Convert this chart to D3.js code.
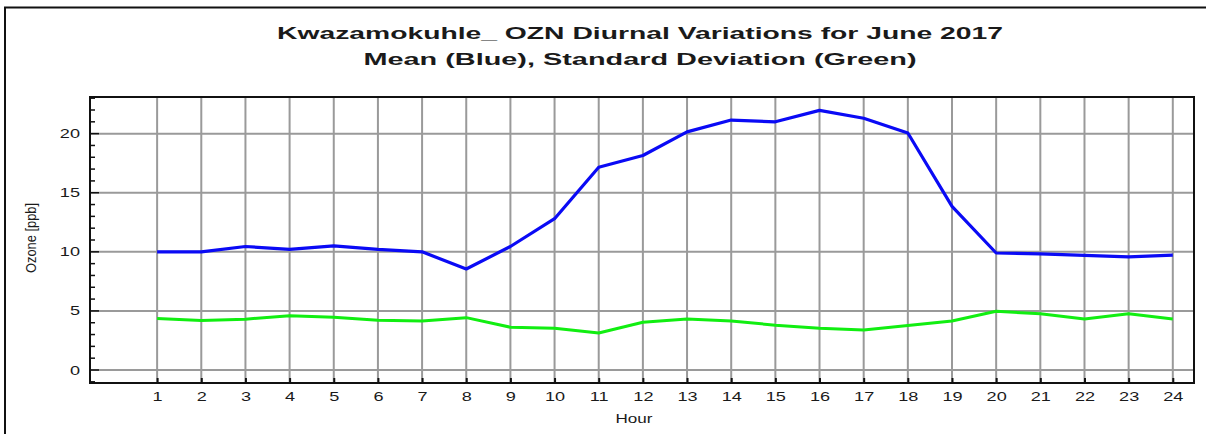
<!DOCTYPE html>
<html lang="en">
<head>
<meta charset="utf-8">
<title>Kwazamokuhle OZN Diurnal Variations</title>
<style>
  html, body { margin: 0; padding: 0; background: #fff; }
  text { font-family: "Liberation Sans", Arial, sans-serif; fill: #1a1a1a; }
  .grid line { stroke: #9a9a9a; stroke-width: 2px; }
  .title { font-weight: bold; font-size: 16.5px; }
</style>
</head>
<body>
<div id="chart"></div>
<script src="https://d3js.org/d3.v7.min.js"></script>
<script>
// hours of the day
var hours = [1,2,3,4,5,6,7,8,9,10,11,12,13,14,15,16,17,18,19,20,21,22,23,24];
// mean ozone (blue)
var meanOzone = [10.0,10.0,10.45,10.2,10.5,10.2,10.0,8.55,10.45,12.8,17.15,18.15,20.15,21.15,21.0,21.97,21.3,20.05,13.85,9.9,9.83,9.7,9.58,9.72];
// standard deviation (green)
var stdOzone = [4.35,4.18,4.3,4.6,4.47,4.2,4.15,4.43,3.62,3.53,3.13,4.04,4.32,4.15,3.79,3.53,3.39,3.76,4.15,4.97,4.75,4.32,4.75,4.32];
var yTicks = [0,5,10,15,20];
var yMinor = d3.range(-1, 24);

var width = 1206, height = 434;
var margin = {left: 90, top: 97, right: 12, bottom: 51};
var stretch = 1.45; // the picture is wider than tall, text looks stretched

var svg = d3.select("#chart").append("svg")
  .attr("width", width)
  .attr("height", height);

// outer frame (only left and top visible)
svg.append("path")
  .attr("d", "M5,434 L5,7.5 L1206,7.5")
  .attr("fill", "none")
  .attr("stroke", "#111")
  .attr("stroke-width", 2);

var x = d3.scaleLinear().domain([-0.52, 24.48]).range([margin.left, width - margin.right]);
var y = d3.scaleLinear().domain([-1.1, 23.1]).range([height - margin.bottom, margin.top]);

// grid
var grid = svg.append("g").attr("class", "grid");
grid.selectAll(".vx").data(hours).enter().append("line")
  .attr("x1", function (d) { return x(d); })
  .attr("x2", function (d) { return x(d); })
  .attr("y1", y.range()[1])
  .attr("y2", y.range()[0]);
grid.selectAll(".hy").data(yTicks).enter().append("line")
  .attr("x1", x.range()[0])
  .attr("x2", x.range()[1])
  .attr("y1", function (d) { return y(d); })
  .attr("y2", function (d) { return y(d); });

// plot frame
svg.append("rect")
  .attr("x", x.range()[0])
  .attr("y", y.range()[1])
  .attr("width", x.range()[1] - x.range()[0])
  .attr("height", y.range()[0] - y.range()[1])
  .attr("fill", "none")
  .attr("stroke", "#111")
  .attr("stroke-width", 2);

// y axis: minor ticks
svg.append("g")
  .attr("transform", "translate(" + x.range()[0] + ",0)")
  .selectAll("line").data(yMinor).enter().append("line")
  .attr("x1", 0)
  .attr("x2", function (d) { return d % 5 === 0 ? 9 : 5; })
  .attr("y1", function (d) { return y(d); })
  .attr("y2", function (d) { return y(d); })
  .attr("stroke", "#111")
  .attr("stroke-width", 1.5);

// y axis labels
var yAxis = d3.axisLeft(y).tickValues(yTicks).tickSize(0).tickPadding(10);
var gy = svg.append("g")
  .attr("transform", "translate(" + x.range()[0] + ",0)")
  .call(yAxis);
gy.select(".domain").remove();
gy.selectAll("text")
  .style("font-size", "12.5px")
  .style("font-family", "Liberation Sans, Arial, sans-serif")
  .attr("fill", "#1a2a4a")
  .attr("transform", "translate(-10,0) scale(" + stretch + ",1) translate(10,0)");

// x axis
var xAxis = d3.axisBottom(x).tickValues(hours).tickSizeInner(-5).tickSizeOuter(0).tickPadding(9);
var gx = svg.append("g")
  .attr("transform", "translate(0," + y.range()[0] + ")")
  .call(xAxis);
gx.select(".domain").remove();
gx.selectAll("line").attr("stroke", "#111").attr("stroke-width", 2);
gx.selectAll("text")
  .style("font-size", "12.5px")
  .style("font-family", "Liberation Sans, Arial, sans-serif")
  .attr("fill", "#1a1a1a")
  .attr("transform", "scale(" + stretch + ",1)");

// lines
var line = function (vals) {
  return d3.line()
    .x(function (d, i) { return x(hours[i]); })
    .y(function (d) { return y(d); })(vals);
};
svg.append("path")
  .attr("d", line(stdOzone))
  .attr("fill", "none")
  .attr("stroke", "#11ee11")
  .attr("stroke-width", 3)
  .attr("stroke-linejoin", "round");
svg.append("path")
  .attr("d", line(meanOzone))
  .attr("fill", "none")
  .attr("stroke", "#0a0af5")
  .attr("stroke-width", 3.2)
  .attr("stroke-linejoin", "round");

// titles
svg.append("text").attr("class", "title")
  .attr("x", 640).attr("y", 39)
  .attr("text-anchor", "middle")
  .attr("textLength", 726)
  .attr("lengthAdjust", "spacingAndGlyphs")
  .text("Kwazamokuhle_ OZN Diurnal Variations for June 2017");
svg.append("text").attr("class", "title")
  .attr("x", 640).attr("y", 65)
  .attr("text-anchor", "middle")
  .attr("textLength", 553)
  .attr("lengthAdjust", "spacingAndGlyphs")
  .text("Mean (Blue), Standard Deviation (Green)");

// axis titles
svg.append("text")
  .attr("x", 634).attr("y", 423)
  .attr("text-anchor", "middle")
  .attr("textLength", 37)
  .attr("lengthAdjust", "spacingAndGlyphs")
  .style("font-size", "12px")
  .text("Hour");
svg.append("text")
  .attr("transform", "translate(36,238) rotate(-90) scale(1,1.3)")
  .attr("text-anchor", "middle")
  .attr("textLength", 70)
  .attr("lengthAdjust", "spacingAndGlyphs")
  .style("font-size", "11.5px")
  .text("Ozone [ppb]");
</script>
</body>
</html>
